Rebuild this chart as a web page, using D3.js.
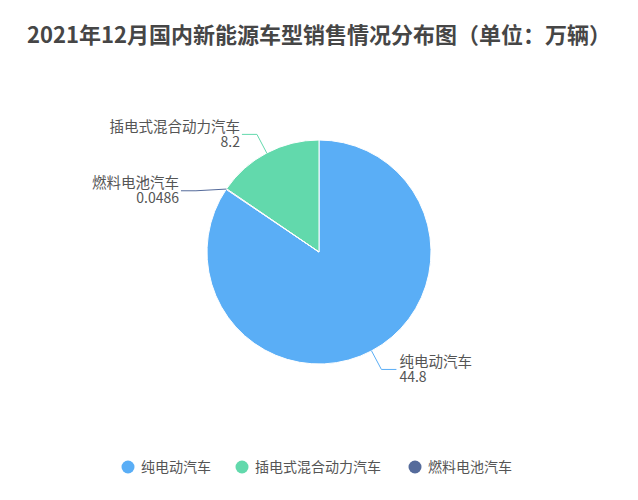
<!DOCTYPE html>
<html>
<head>
<meta charset="utf-8">
<script src="https://cdn.jsdelivr.net/npm/d3@7"></script>
<style>
  body { margin: 0; background: #fff; }
  text { font-family: "Noto Sans CJK SC", "Noto Sans", sans-serif; }
</style>
</head>
<body>
<script>
	// data (legend order)
	var categories = ["纯电动汽车", "插电式混合动力汽车", "燃料电池汽车"];
	var values = [44.8, 8.2, 0.0486];
	var valueLabels = ["44.8", "8.2", "0.0486"];
	var colors = ["#5aaef6", "#62d9ac", "#556b9b"];
	// order the slices go round the pie, clockwise from the top
	var sliceOrder = [0, 2, 1];

	var width = 638, height = 500;
	var cx = 319, cy = 252, radius = 112;

	var svg = d3.select("body")
	    .append("svg")
	    .attr("width", width)
	    .attr("height", height);

	// title
	svg.append("text")
	    .attr("x", cx)
	    .attr("y", 43)
	    .attr("text-anchor", "middle")
	    .attr("font-size", 22)
	    .attr("font-weight", "bold")
	    .attr("fill", "#464646")
	    .text("2021年12月国内新能源车型销售情况分布图（单位：万辆）");

	var pie = d3.pie()
	    .sort(function(a, b){ return sliceOrder.indexOf(a) - sliceOrder.indexOf(b); })
	    .value(function(i){ return values[i]; });
	var arcs = pie([0, 1, 2]);

	var arc = d3.arc().innerRadius(0).outerRadius(radius);

	var g = svg.append("g")
	    .attr("transform", "translate(" + cx + "," + cy + ")");

	g.selectAll("path")
	    .data(arcs)
	    .enter()
	    .append("path")
	    .attr("d", arc)
	    .attr("fill", function(d){ return colors[d.data]; })
	    .attr("stroke", "#fff")
	    .attr("stroke-width", 1);

	// label lines: edge point, bend point, short horizontal end
	// small nudges so the labels sit apart like in the original
	var bendDx = [0, 0, -13];
	var bendDy = [0, 0, 13.5];
	var labelG = svg.append("g")
	    .attr("transform", "translate(" + cx + "," + cy + ")");

	arcs.forEach(function(d){
	    var i = d.data;
	    var a = (d.startAngle + d.endAngle) / 2;
	    var sx = Math.sin(a) * radius, sy = -Math.cos(a) * radius;
	    var bx = Math.sin(a) * (radius + 21) + bendDx[i],
	        by = -Math.cos(a) * (radius + 21) + bendDy[i];
	    var right = Math.sin(a) > 0;
	    var ex = bx + (right ? 15 : -15);
	    labelG.append("polyline")
	        .attr("points", [[sx, sy], [bx, by], [ex, by]].map(function(p){ return p.join(","); }).join(" "))
	        .attr("fill", "none")
	        .attr("stroke", colors[i])
	        .attr("stroke-width", 1);
	    var tx = ex + (right ? 3 : -2);
	    var t = labelG.append("text")
	        .attr("x", tx)
	        .attr("y", by - 2.5)
	        .attr("text-anchor", right ? "start" : "end")
	        .attr("font-size", 14.5)
	        .attr("fill", "#555");
	    t.append("tspan").attr("x", tx).text(categories[i]);
	    t.append("tspan").attr("x", tx).attr("dy", 15).attr("font-size", 14).text(valueLabels[i]);
	});

	// legend
	var legendX = [128, 242, 415];
	var legend = svg.append("g");
	categories.forEach(function(c, i){
	    legend.append("circle")
	        .attr("cx", legendX[i])
	        .attr("cy", 467)
	        .attr("r", 6.5)
	        .attr("fill", colors[i]);
	    legend.append("text")
	        .attr("x", legendX[i] + 13)
	        .attr("y", 472)
	        .attr("font-size", 14)
	        .attr("fill", "#555")
	        .text(c);
	});
</script>
</body>
</html>
